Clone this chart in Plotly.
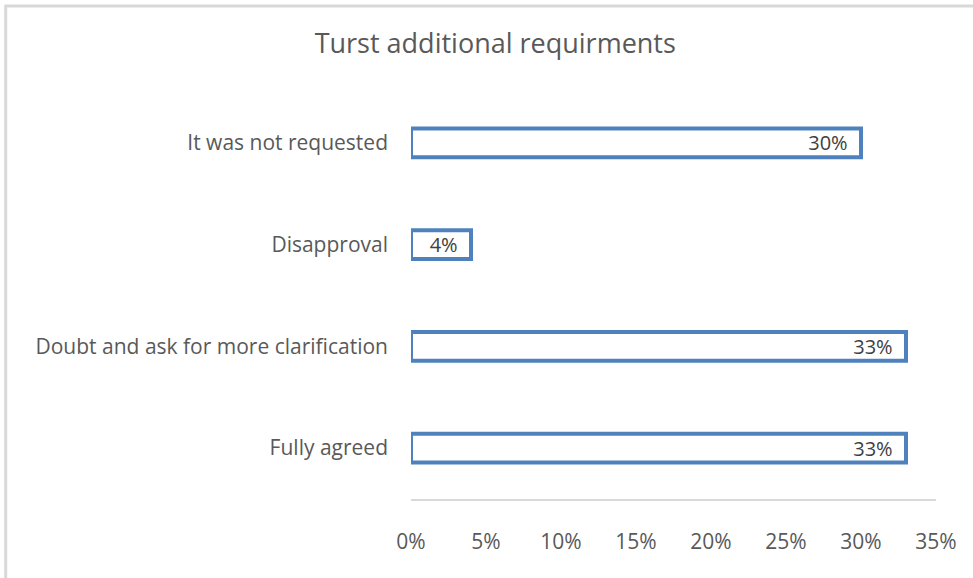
import plotly.graph_objects as go

# Responses, listed top to bottom as shown on the chart
categories = [
    "It was not requested",
    "Disapproval",
    "Doubt and ask for more clarification",
    "Fully agreed",
]
shares = [0.30, 0.04, 0.33, 0.33]
x_ticks = [0, 0.05, 0.10, 0.15, 0.20, 0.25, 0.30, 0.35]
x_tick_labels = ["0%", "5%", "10%", "15%", "20%", "25%", "30%", "35%"]

label_font = "'Open Sans', sans-serif"

fig = go.Figure(
    go.Bar(
        x=shares,
        y=categories,
        orientation="h",
        marker=dict(color="white", line=dict(color="#4F81BD", width=4)),
        texttemplate="%{x:.0%}\u00a0\u00a0",
        textposition="inside",
        insidetextanchor="end",
        textfont=dict(family=label_font, size=20, color="#404040"),
        constraintext="none",
        hoverinfo="skip",
    )
)

fig.update_layout(
    width=973,
    height=578,
    margin=dict(l=411, r=37, t=92, b=79),
    paper_bgcolor="white",
    plot_bgcolor="white",
    showlegend=False,
    bargap=0.715,
    title=dict(
        text="Turst additional requirments",
        font=dict(family="'Open Sans', sans-serif", size=27, color="#595959"),
        x=0.509,
        xanchor="center",
        y=0.924,
        yanchor="middle",
    ),
    xaxis=dict(
        range=[0, 0.35],
        tickvals=x_ticks,
        ticktext=x_tick_labels,
        showgrid=False,
        zeroline=False,
        showline=True,
        linecolor="#D9D9D9",
        linewidth=2,
        ticks="",
        ticklabelstandoff=23,
        tickfont=dict(family=label_font, size=21, color="#595959"),
        fixedrange=True,
    ),
    yaxis=dict(
        categoryorder="array",
        categoryarray=categories[::-1],
        showgrid=False,
        zeroline=False,
        showline=False,
        ticks="",
        ticklabelstandoff=22,
        tickfont=dict(family=label_font, size=21, color="#595959"),
        fixedrange=True,
    ),
    shapes=[
        dict(
            type="rect",
            xref="paper",
            yref="paper",
            x0=-0.772,
            x1=1.3,
            y0=-0.5,
            y1=1.211,
            line=dict(color="#D9D9D9", width=3),
            fillcolor="rgba(0,0,0,0)",
            layer="below",
        )
    ],
)

fig.write_html("out.html")
